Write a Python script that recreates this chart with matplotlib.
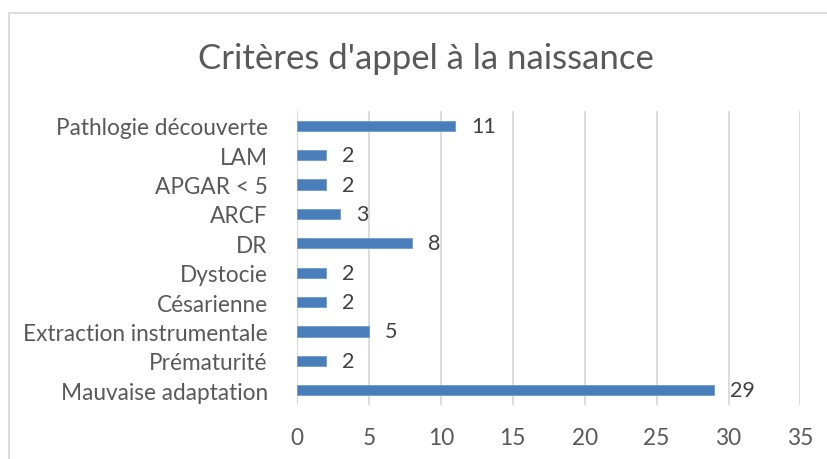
import matplotlib.pyplot as plt
from matplotlib.patches import Rectangle

# Données du graphique (de bas en haut)
categories = ['Mauvaise adaptation', 'Prématurité', 'Extraction instrumentale',
              'Césarienne', 'Dystocie', 'DR', 'ARCF', 'APGAR < 5', 'LAM',
              'Pathlogie découverte']
values = [29, 2, 5, 2, 2, 8, 3, 2, 2, 11]
xticks = [0, 5, 10, 15, 20, 25, 30, 35]

bar_color = '#4a7ebb'
grid_color = '#d9d9d9'
text_color = '#595959'

plt.rcParams['font.family'] = ['Lato', 'DejaVu Sans']

fig = plt.figure(figsize=(8.28, 4.6), dpi=100)
ax = fig.add_axes([297 / 828, 1 - 406 / 460, (800.5 - 297) / 828, (406 - 112) / 460])

ypos = range(len(categories))
ax.barh(ypos, values, height=0.35, color=bar_color, edgecolor='#6f9ad0', linewidth=0.6, zorder=3)

for y, v in zip(ypos, values):
    ax.text(v + 1.1, y, str(v), va='center', ha='left', fontsize=15.5, color='#404040')

ax.set_xlim(0, 35)
ax.set_ylim(-0.5, len(categories) - 0.5)
ax.set_xticks(xticks)
ax.set_yticks(list(ypos))
ax.set_yticklabels(categories)
ax.tick_params(axis='both', length=0, labelsize=16.3, colors=text_color)
ax.tick_params(axis='x', pad=16)
ax.tick_params(axis='y', pad=21)

ax.grid(axis='x', color=grid_color, linewidth=1.3, zorder=0)
for s in ax.spines.values():
    s.set_visible(False)
ax.axvline(0, color=grid_color, linewidth=1.3, zorder=1)

fig.text(426 / 828, 1 - 59 / 460, "Critères d'appel à la naissance",
         ha='center', va='center', fontsize=25, color=text_color)

# Cadre du graphique
fig.patches.append(Rectangle((9 / 828, -0.1), 1.2, 1 - 14 / 460 + 0.1,
                             transform=fig.transFigure, fill=False,
                             edgecolor='#d9d9d9', linewidth=1.3))

fig.savefig('out.png', dpi=100)
